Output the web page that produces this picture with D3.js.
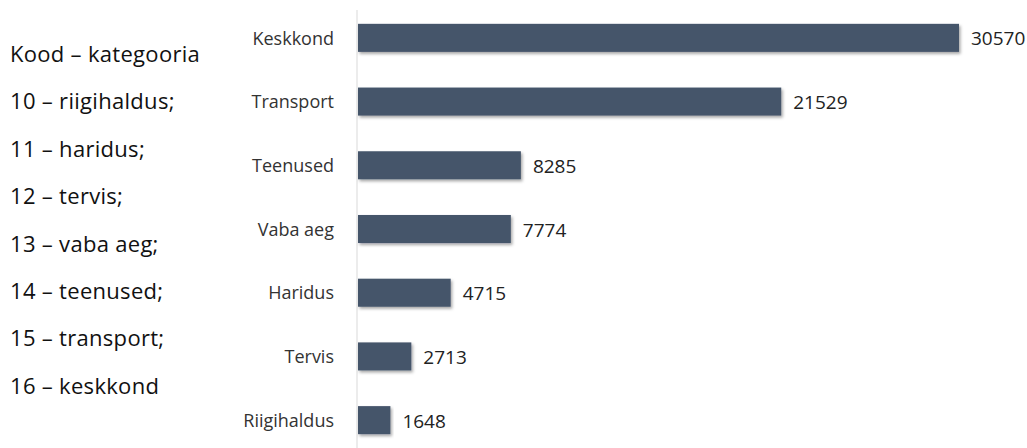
<!DOCTYPE html>
<html>
<head>
<meta charset="utf-8">
<script src="https://cdn.jsdelivr.net/npm/d3@7"></script>
<style>
  body { margin: 0; background: #fff; }
</style>
</head>
<body>
<div id="chart"></div>
<script>
const w = 1027;
const h = 448;

// data
const categories = ["Keskkond", "Transport", "Teenused", "Vaba aeg", "Haridus", "Tervis", "Riigihaldus"];
const values = [30570, 21529, 8285, 7774, 4715, 2713, 1648];
const legendLines = ["Kood – kategooria", "10 – riigihaldus;", "11 – haridus;", "12 – tervis;",
                     "13 – vaba aeg;", "14 – teenused;", "15 – transport;", "16 – keskkond"];

const svg = d3.select("#chart").append("svg")
    .attr("width", w)
    .attr("height", h);

const defs = svg.append("defs");
const shadow = defs.append("filter").attr("id", "shadow")
    .attr("x", "-5%").attr("y", "-20%").attr("width", "115%").attr("height", "160%");
shadow.append("feDropShadow")
    .attr("dx", 1.5).attr("dy", 2).attr("stdDeviation", 1.5)
    .attr("flood-color", "#000").attr("flood-opacity", 0.35);

// legend text on the left
svg.append("g")
    .selectAll("text")
    .data(legendLines)
    .enter().append("text")
    .attr("x", 10)
    .attr("y", (d, i) => 62 + i * 47.4)
    .style("font-family", "'Open Sans', sans-serif")
    .style("font-size", "22px")
    .style("letter-spacing", "0.3px")
    .style("fill", "#111")
    .text(d => d);

const x = d3.scaleLinear().domain([0, 30570]).range([357, 958]);
const y = d3.scaleBand().domain(categories).range([6, 452]).paddingInner(0.56).paddingOuter(0.28);

// vertical axis line
svg.append("line")
    .attr("x1", 357).attr("x2", 357)
    .attr("y1", 10).attr("y2", h)
    .attr("stroke", "#d9d9d9")
    .attr("stroke-width", 1);

svg.selectAll(".bar")
    .data(values)
    .enter().append("rect")
    .attr("class", "bar")
    .attr("x", x(0) + 1)
    .attr("y", (d, i) => y(categories[i]))
    .attr("width", d => x(d) - x(0))
    .attr("height", y.bandwidth())
    .attr("fill", "#44546a")
    .attr("filter", "url(#shadow)");

// category labels
const yAxis = d3.axisLeft(y).tickSize(0).tickPadding(23);
const ga = svg.append("g")
    .attr("transform", "translate(357,1)")
    .call(yAxis);
ga.select(".domain").remove();
ga.selectAll("text")
    .style("font-family", "'Open Sans', sans-serif")
    .style("font-size", "18px")
    .style("fill", "#333");

// value labels
svg.selectAll(".val")
    .data(values)
    .enter().append("text")
    .attr("class", "val")
    .attr("x", d => x(d) + 13)
    .attr("y", (d, i) => y(categories[i]) + y.bandwidth() / 2)
    .attr("dy", "0.4em")
    .style("font-family", "'Open Sans', sans-serif")
    .style("font-size", "19px")
    .style("fill", "#222")
    .text(d => d);
</script>
</body>
</html>
